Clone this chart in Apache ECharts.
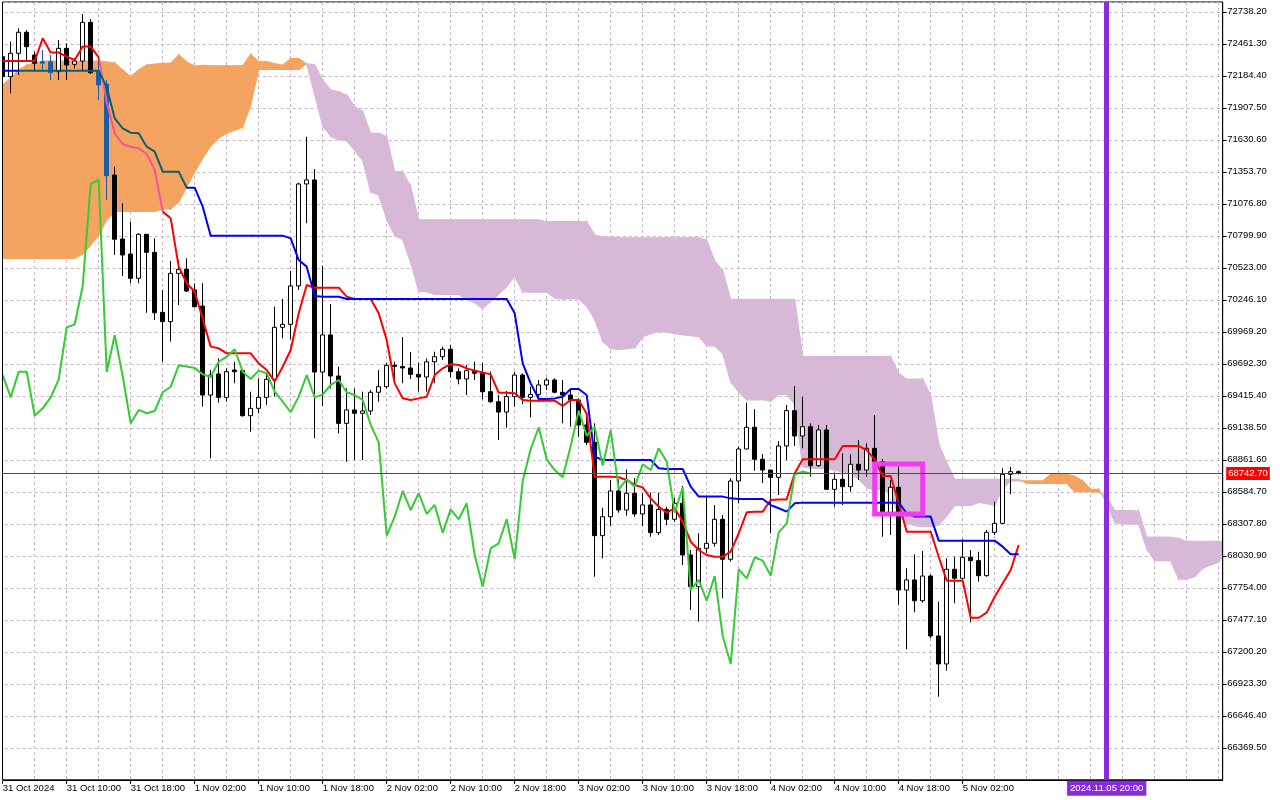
<!DOCTYPE html>
<html>
<head>
<meta charset="utf-8">
<script src="https://cdn.jsdelivr.net/npm/echarts@6/dist/echarts.min.js"></script>
<style>html,body{margin:0;padding:0;background:#fff;overflow:hidden}#chart{width:1280px;height:800px}</style>
</head>
<body>
<div id="chart"></div>
<script>
// ---- Data (BTC, H1, 31 Oct 2024 02:00 onward) ----
const opens = [
72350,72177,72379,72561,72364,72306,72306,72220,72422,72284,
72312,72647,72220,72113,71326,70772,70642,70432,70813,70657,
70138,70057,70475,70510,70331,70192,69422,69604,69402,69639,
69633,69243,69307,69402,69558,70008,70034,70366,71248,71283,
69621,69942,69587,69177,69293,69264,69284,69446,69494,69679,
69669,69656,69601,69578,69710,69754,69818,69624,69561,69633,
69610,69451,69364,69275,69408,69595,69402,69428,69509,69552,
69446,69422,69379,69163,69013,68205,68369,68592,68427,68572,
68393,68471,68231,68433,68347,68485,68038,67764,68096,68139,
68347,68001,68678,68955,69143,68866,68773,68710,68981,69287,
69068,69148,68811,69120,68606,68693,68629,68823,68773,68961,
68845,68404,68624,67735,67822,67642,67856,67337,67095,67914,
67836,68018,67989,67859,68234,68312,68736,68759];
const closes = [
72177,72379,72561,72436,72293,72293,72211,72422,72278,72312,
72647,72211,72105,71320,70770,70634,70432,70813,70657,70134,
70057,70475,70510,70322,70186,69422,69595,69402,69624,69624,
69243,69307,69402,69558,70008,70034,70366,71248,71283,69621,
69942,69587,69177,69293,69264,69284,69446,69494,69679,69669,
69656,69601,69578,69710,69754,69818,69624,69561,69633,69610,
69451,69364,69275,69408,69595,69402,69428,69509,69552,69446,
69422,69379,69163,69013,68205,68369,68592,68427,68572,68393,
68471,68231,68433,68347,68485,68038,67764,68096,68139,68347,
68001,68678,68955,69143,68866,68773,68710,68981,69287,69068,
69148,68811,69120,68606,68693,68629,68823,68773,68961,68845,
68404,68624,67735,67822,67642,67856,67337,67095,67914,67836,
68018,67989,67859,68234,68312,68736,68759,68742.7];
const highs = [
72364,72480,72595,72581,72393,72408,72364,72494,72466,72336,
72719,72676,72321,72148,71398,71081,70922,70822,70816,70778,
70331,70582,70591,70605,70389,70389,69639,69740,69653,69710,
69639,69451,69567,69604,70186,70253,70495,71259,71657,71378,
70541,70210,69667,69480,69480,69451,69466,69639,69697,69710,
69924,69794,69702,69740,69797,69840,69855,69653,69682,69710,
69702,69624,69422,69457,69624,69610,69494,69552,69572,69567,
69552,69466,69394,69235,69177,68447,68687,68693,68779,68702,
68572,68577,68577,68456,68534,68635,68081,68226,68542,68471,
68384,68702,68975,69356,69299,68912,68773,69024,69336,69500,
69408,69177,69163,69163,68750,68918,68909,69033,69004,69249,
68870,68687,68802,67923,68044,68072,67870,67634,68009,68023,
68174,68081,68066,68254,68499,68788,68802,68770];
const lows = [
72163,72033,72191,72304,72235,72235,72148,72148,72148,72249,
72235,72200,71975,71110,70634,70452,70389,70389,70134,70071,
69710,69884,70201,70314,70180,69321,68875,69356,69364,69524,
69235,69105,69264,69336,69408,69913,69904,70331,70908,69048,
69327,69480,69091,68845,68860,68860,69249,69364,69480,69552,
69524,69561,69451,69451,69524,69725,69572,69515,69422,69552,
69385,69356,69033,69139,69321,69344,69229,69364,69466,69437,
69177,69148,69061,68990,67850,68009,68289,68404,68378,68369,
68289,68196,68211,68297,68323,67951,67562,67461,68053,68110,
67663,67980,68485,68952,68767,68661,68226,68557,68860,68981,
68961,68715,68802,68600,68456,68471,68586,68687,68715,68773,
68196,68211,67605,67222,67542,67625,67320,66812,67037,67620,
67815,67455,67807,67850,68211,68306,68563,68735];
const tenkan = [
72312,72312,72312,72312,72312,72509,72385,72385,72350,72321,
72437,72437,72344,71960,71686,71594,71571,71557,71508,71369,
71009,70951,70533,70389,70316,70080,69841,69826,69783,69783,
69783,69783,69696,69639,69538,69667,69812,70129,70374,70351,
70351,70351,70351,70273,70253,70253,70253,70129,69898,69523,
69395,69379,69393,69408,69595,69653,69691,69682,69653,69633,
69618,69601,69442,69442,69437,69379,69373,69373,69373,69373,
69327,69379,69379,69260,68716,68716,68716,68710,68687,68644,
68623,68528,68456,68404,68442,68326,68153,68081,68038,68023,
68023,68067,68225,68407,68413,68413,68514,68519,68519,68744,
68866,68866,68866,68866,68866,68981,68981,68981,68946,68866,
68721,68721,68485,68240,68240,68240,68240,68023,67816,67816,
67816,67495,67495,67539,67677,67793,67908,68124];
const kijun = [
72229,72229,72229,72229,72229,72229,72229,72229,72229,72229,
72229,72229,72229,72085,71816,71730,71692,71687,71571,71528,
71355,71355,71355,71216,71216,71052,70801,70801,70801,70801,
70801,70801,70801,70801,70801,70801,70778,70590,70533,70279,
70273,70273,70273,70253,70253,70253,70253,70253,70253,70253,
70253,70253,70253,70253,70253,70253,70253,70253,70253,70253,
70253,70253,70253,70253,70129,69696,69523,69388,69388,69393,
69408,69474,69474,69422,68889,68860,68860,68860,68860,68860,
68860,68860,68788,68782,68782,68782,68630,68543,68543,68543,
68543,68528,68522,68522,68522,68522,68470,68442,68413,68485,
68491,68491,68491,68491,68491,68491,68491,68491,68491,68491,
68491,68491,68491,68398,68370,68370,68370,68162,68162,68162,
68162,68162,68162,68162,68162,68110,68044,68044];
// Senkou spans as plotted (already shifted 26 bars forward)
const spanA = [
72105,72165,72235,72278,72295,72312,72312,72312,72312,72312,
72312,72312,72312,72304,72295,72235,72177,72235,72278,72286,
72292,72292,72364,72304,72269,72275,72271,72271,72271,72271,
72271,72369,72307,72307,72289,72275,72333,72333,72286,72022,
71751,71662,71632,71622,71540,71449,71182,71153,70944,70803,
70766,70566,70321,70314,70292,70292,70292,70292,70249,70220,
70170,70234,70295,70360,70454,70315,70312,70312,70312,70263,
70253,70253,70253,70191,70076,69888,69824,69816,69823,69831,
69924,69953,69972,69968,69953,69943,69936,69927,69848,69848,
69783,69538,69448,69381,69381,69383,69368,69427,69427,69341,
68803,68788,68788,68785,68774,68752,68742,68694,68622,68593,
68612,68554,68391,68312,68291,68283,68283,68298,68374,68465,
68468,68468,68492,68481,68466,68615,68679,68679,68679,68679,
68679,68736,68736,68736,68719,68679,68606,68606,68488,68319,
68305,68305,68305,68093,67989,67989,67989,67829,67829,67851,
67920,67952,67976,68084];
const spanB = [
70605,70605,70605,70605,70605,70605,70605,70605,70605,70605,
70642,70720,70807,70937,71010,71010,71010,71010,71010,71010,
71032,71032,71092,71222,71352,71473,71577,71646,71687,71715,
71741,71932,72239,72239,72239,72239,72239,72239,72290,72278,
72148,72061,72047,72018,71917,71874,71687,71687,71657,71355,
71355,71225,70937,70937,70937,70937,70937,70937,70937,70937,
70937,70937,70937,70937,70937,70937,70937,70937,70922,70922,
70922,70922,70922,70922,70807,70790,70790,70782,70782,70782,
70782,70782,70782,70782,70782,70782,70782,70782,70761,70583,
70497,70251,70251,70251,70251,70251,70251,70251,70251,70251,
69754,69754,69754,69754,69754,69754,69754,69754,69754,69754,
69754,69754,69610,69559,69559,69559,69420,69001,68836,68693,
68693,68693,68693,68693,68693,68693,68693,68693,68658,68658,
68658,68658,68658,68658,68586,68586,68586,68582,68543,68423,
68423,68423,68416,68192,68192,68192,68190,68182,68156,68156,
68156,68156,68156,68156];
const chikouShift = 26;
const yTickStart = 66092.6;   // first price tick (below the visible labels)
const yTickStep = 276.9;
const yTop = 72823.0;
const markedTime = '2024.11.05 20:00';
const boxFrom = 109, boxTo = 115, boxHigh = 68825, boxLow = 68393;

// ---- Derived helpers ----
const MON = ['Jan','Feb','Mar','Apr','May','Jun','Jul','Aug','Sep','Oct','Nov','Dec'];
const pad = n => String(n).padStart(2, '0');
const firstBar = Date.UTC(2024, 9, 31, 2, 0);
const times = spanA.slice(0, -1).map((_, k) => {
  const d = new Date(firstBar + k * 3600000);
  return d.getUTCFullYear() + '.' + pad(d.getUTCMonth() + 1) + '.' + pad(d.getUTCDate()) + ' ' + pad(d.getUTCHours()) + ':00';
});
const nBars = opens.length;
// bars whose bodies sit inside the orange cloud are shown tinted, as in the terminal
const tintedBars = [5, 6, 12, 13];
const TINT = '#1C5FA6';
const candles = opens.map((o, k) => {
  const v = [o, closes[k], lows[k], highs[k]];
  return tintedBars.indexOf(k) >= 0
    ? { value: v, itemStyle: { color: TINT, color0: TINT, borderColor: TINT, borderColor0: TINT } }
    : v;
});
const chikou = closes.slice(chikouShift);
const lastClose = closes[nBars - 1];
const FONT = "'Liberation Sans', Arial, sans-serif";
const GRID = '#c4b6c4';
const ORANGE = '#F4A460', THISTLE = '#D7B9D7';

function xLabel(v, idx) {
  const parts = v.split(' ');
  const dmy = parts[0].split('.');
  const day = +dmy[2], mon = MON[+dmy[1] - 1];
  return idx === 0 ? day + ' ' + mon + ' ' + dmy[0] : day + ' ' + mon + ' ' + parts[1];
}
const showLabel = idx => idx % 8 === 0 && idx < nBars;

function renderCloud(params, api) {
  const i = api.value(0);
  const cs = params.coordSys;
  const right = cs.x + cs.width;
  const band = api.size([1, 0])[0];
  const pA0 = api.coord([i, spanA[i]]);
  const x0 = pA0[0];
  let x1 = x0 + band;
  const ya0 = pA0[1];
  const yb0 = api.coord([i, spanB[i]])[1];
  let ya1 = api.coord([i, spanA[i + 1]])[1];
  let yb1 = api.coord([i, spanB[i + 1]])[1];
  if (x1 > right) {
    const t = (right - x0) / (x1 - x0);
    ya1 = ya0 + (ya1 - ya0) * t;
    yb1 = yb0 + (yb1 - yb0) * t;
    x1 = right;
  }
  const d0 = ya0 - yb0, d1 = ya1 - yb1;
  const children = [];
  const poly = (pts, c) => children.push({
    type: 'polygon', shape: { points: pts },
    style: { fill: c, stroke: c, lineWidth: 1.2 }
  });
  if (d0 * d1 < 0) {
    const t = d0 / (d0 - d1);
    const xm = x0 + (x1 - x0) * t, ym = ya0 + (ya1 - ya0) * t;
    poly([[x0, ya0], [xm, ym], [x0, yb0]], d0 < 0 ? ORANGE : THISTLE);
    poly([[xm, ym], [x1, ya1], [x1, yb1]], d1 < 0 ? ORANGE : THISTLE);
  } else {
    poly([[x0, ya0], [x1, ya1], [x1, yb1], [x0, yb0]], (d0 + d1) < 0 ? ORANGE : THISTLE);
  }
  return { type: 'group', children: children };
}

const chart = echarts.init(document.getElementById('chart'), null, { renderer: 'canvas' });
chart.setOption({
  animation: false,
  backgroundColor: '#ffffff',
  textStyle: { fontFamily: FONT },
  grid: {
    left: -1.3, right: 57.3, top: 2, bottom: 20.2,
    show: true, borderColor: '#000', borderWidth: 1, backgroundColor: '#fff',
    containLabel: false, outerBoundsMode: 'none'
  },
  visualMap: [
    { type: 'piecewise', show: false, seriesIndex: 2, dimension: 0,
      pieces: [{ lt: 12.2, color: '#FF0000' }, { gte: 12.2, lt: 19.9, color: '#F2559E' }, { gte: 19.9, color: '#FF0000' }] },
    { type: 'piecewise', show: false, seriesIndex: 3, dimension: 0,
      pieces: [{ lt: 1.8, color: '#0000FF' }, { gte: 1.8, lt: 22.9, color: '#0C5E6E' }, { gte: 22.9, color: '#0000FF' }] }
  ],
  xAxis: {
    type: 'category', data: times, boundaryGap: true,
    axisLine: { show: true, lineStyle: { color: '#000', width: 1 } },
    axisTick: { show: true, alignWithLabel: true, length: 4, interval: showLabel, lineStyle: { color: '#000' } },
    axisLabel: {
      interval: showLabel, formatter: xLabel, align: 'left', margin: 4,
      color: '#000', fontSize: 9.5, fontFamily: FONT, hideOverlap: false
    },
    splitLine: { show: true, interval: 3, alignWithLabel: true, lineStyle: { color: GRID, type: [3, 3], width: 1 } }
  },
  yAxis: {
    type: 'value', position: 'right', min: yTickStart, max: yTop, interval: yTickStep,
    axisLine: { show: true, lineStyle: { color: '#000', width: 1 } },
    axisTick: { show: true, length: 4, lineStyle: { color: '#000' } },
    axisLabel: {
      formatter: v => v.toFixed(2), showMinLabel: false, showMaxLabel: false,
      margin: 4.5, color: '#000', fontSize: 9.5, fontFamily: FONT
    },
    splitLine: { show: true, lineStyle: { color: GRID, type: [3, 3], width: 1 } }
  },
  series: [
    {
      name: 'Cloud', type: 'custom', renderItem: renderCloud, clip: true,
      data: spanA.slice(0, -1).map((v, k) => [k, v]),
      encode: { x: 0, y: 1 }, z: 0, silent: true
    },
    {
      name: 'Price', type: 'candlestick', data: candles, barWidth: 5, z: 2,
      itemStyle: { color: '#ffffff', color0: '#000000', borderColor: '#000000', borderColor0: '#000000', borderWidth: 1 }
    },
    {
      name: 'Tenkan-sen', type: 'line', data: tenkan, symbol: 'none', z: 3, lineStyle: { width: 2 },
      markArea: {
        silent: true, z: 8,
        itemStyle: { color: 'rgba(0,0,0,0)', borderColor: '#EE3DEE', borderWidth: 5 },
        data: [[{ xAxis: times[boxFrom], yAxis: boxHigh }, { xAxis: times[boxTo], yAxis: boxLow }]]
      }
    },
    { name: 'Kijun-sen', type: 'line', data: kijun, symbol: 'none', z: 3, lineStyle: { width: 2 } },
    {
      name: 'Chikou Span', type: 'line', data: chikou, symbol: 'none', z: 4, lineStyle: { color: '#32CD32', width: 2 },
      markLine: {
        silent: true, symbol: 'none', animation: false, z: 9,
        data: [
          {
            yAxis: lastClose, lineStyle: { color: '#FF0000', width: 1, type: 'solid' },
            label: { show: true, position: 'end', formatter: lastClose.toFixed(2), color: '#fff',
              backgroundColor: '#FF0000', padding: [2, 2, 1, 2], distance: 3.5, fontSize: 9.5, fontFamily: FONT }
          },
          {
            xAxis: markedTime, lineStyle: { color: '#8A2BE2', width: 5, type: 'solid' },
            label: { show: true, position: 'start', formatter: markedTime, color: '#fff',
              backgroundColor: '#8A2BE2', padding: [3, 3, 2, 3], distance: 1, fontSize: 9.5, fontFamily: FONT }
          }
        ]
      }
    }
  ],
  graphic: [
    { type: 'rect', shape: { x: 0, y: 0, width: 2.5, height: 781 }, style: { fill: '#fff' }, z: 100, silent: true },
    { type: 'line', shape: { x1: 2.5, y1: 2, x2: 2.5, y2: 780 }, style: { stroke: '#000', lineWidth: 1 }, z: 101, silent: true }
  ]
});
</script>
</body>
</html>
